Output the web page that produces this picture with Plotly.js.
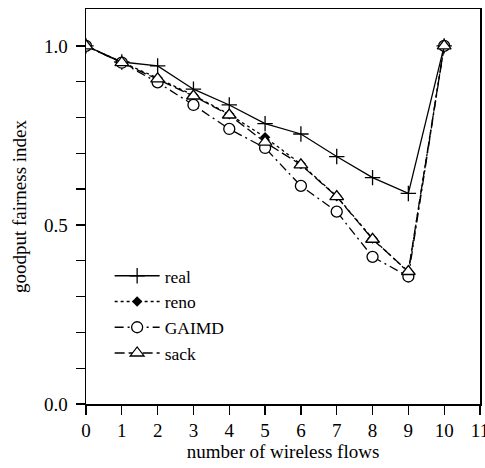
<!DOCTYPE html>
<html>
<head>
<meta charset="utf-8">
<script src="https://cdn.plot.ly/plotly-3.0.1.min.js"></script>
<style>html,body{margin:0;padding:0;background:#fff;}#chart{width:485px;height:468px;}</style>
</head>
<body>
<div id="chart"></div>
<script>
var flows = [0, 1, 2, 3, 4, 5, 6, 7, 8, 9, 10];
var real  = [1.0, 0.955, 0.944, 0.879, 0.835, 0.783, 0.754, 0.691, 0.632, 0.588, 1.0];
var reno  = [1.0, 0.955, 0.910, 0.862, 0.809, 0.745, 0.670, 0.580, 0.462, 0.368, 1.0];
var gaimd = [1.0, 0.953, 0.898, 0.835, 0.768, 0.715, 0.609, 0.537, 0.411, 0.356, 1.0];
var sack  = [1.0, 0.953, 0.908, 0.860, 0.807, 0.731, 0.668, 0.579, 0.460, 0.370, 1.0];
var yTickVals = [0, 0.1, 0.2, 0.3, 0.4, 0.5, 0.6, 0.7, 0.8, 0.9, 1.0];
var yTickText = ["0.0", "", "", "", "", "0.5", "", "", "", "", "1.0"];
var xTickVals = [0, 1, 2, 3, 4, 5, 6, 7, 8, 9, 10, 11];

var font = "Liberation Serif, Times New Roman, serif";
var traces = [
  {x: flows, y: real, name: "real", mode: "lines+markers",
   line: {color: "#000", width: 1.3, dash: "solid"},
   marker: {symbol: "cross-thin-open", size: 11, color: "#000", line: {width: 1.3, color: "#000"}}},
  {x: flows, y: reno, name: "reno", mode: "lines+markers",
   line: {color: "#000", width: 1.3, dash: "3px,3px"},
   marker: {symbol: "diamond", size: 8, color: "#000", line: {width: 0}}},
  {x: flows, y: gaimd, name: "GAIMD", mode: "lines+markers",
   line: {color: "#000", width: 1.3, dash: "9px,4px,2px,4px"},
   marker: {symbol: "circle", size: 11, color: "#fff", line: {width: 1.3, color: "#000"}}},
  {x: flows, y: sack, name: "sack", mode: "lines+markers",
   line: {color: "#000", width: 1.3, dash: "10px,4px"},
   marker: {symbol: "triangle-up", size: 12, color: "#fff", line: {width: 1.3, color: "#000"}}}
];

var layout = {
  width: 485, height: 468,
  margin: {l: 86, r: 5, t: 9, b: 64, pad: 0},
  paper_bgcolor: "#fff", plot_bgcolor: "#fff",
  font: {family: font, size: 19, color: "#000"},
  showlegend: true,
  legend: {x: 0.06, y: 0.37, xanchor: "left", yanchor: "top", itemwidth: 45,
           bgcolor: "rgba(0,0,0,0)", borderwidth: 0,
           font: {family: font, size: 17.5, color: "#000"}, tracegroupgap: 0},
  xaxis: {range: [0, 11], tickvals: xTickVals, ticks: "outside", ticklen: 9,
          tickwidth: 1.3, tickcolor: "#000", showgrid: false, zeroline: false,
          showline: true, linecolor: "#000", linewidth: 1.5, mirror: true,
          ticklabeloverflow: "allow",
          tickfont: {family: font, size: 19, color: "#000"},
          title: {text: "number of wireless flows", font: {family: font, size: 19, color: "#000"}, standoff: 2}},
  yaxis: {range: [0, 1.103], tickvals: yTickVals, ticktext: yTickText, ticks: "outside", ticklen: 9,
          tickwidth: 1.3, tickcolor: "#000", showgrid: false, zeroline: false,
          showline: true, linecolor: "#000", linewidth: 1.5, mirror: true,
          ticklabelstandoff: 4,
          tickfont: {family: font, size: 19, color: "#000"},
          title: {text: "goodput fairness index", font: {family: font, size: 19, color: "#000"}, standoff: 12}}
};

Plotly.newPlot("chart", traces, layout, {displayModeBar: false, staticPlot: true});
</script>
</body>
</html>
